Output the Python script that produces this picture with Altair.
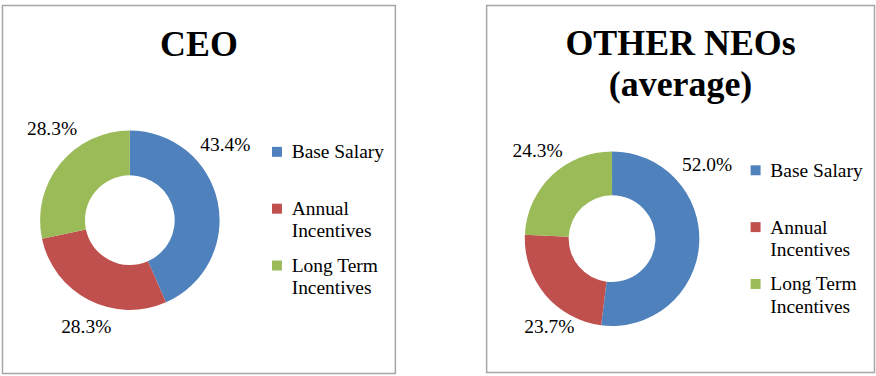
import altair as alt
import pandas as pd

# ---- data ----
CATEGORIES = ["Base Salary", "Annual Incentives", "Long Term Incentives"]
CEO_VALUES = [43.4, 28.3, 28.3]
NEO_VALUES = [52.0, 23.7, 24.3]
CEO_TITLE = ["CEO"]
NEO_TITLE = ["OTHER NEOs", "(average)"]

# ---- style ----
COLORS = ["#4F81BD", "#C0504D", "#9BBB59"]
SERIF = "Liberation Serif"
LABEL_RADIUS = 118
# per-label nudges (px) from the mid-angle position, mimicking "best fit" labels
CEO_NUDGE = [(-19.7, -45.0), (10.2, 8.0), (13.6, -10.6)]
NEO_NUDGE = [(-22.4, -75.2), (27.4, 18.8), (7.0, 3.1)]

SQUARE = "M-1,-2.3H1V-0.3H-1Z"


def panel(values, title, w, h, center, radii, legend_xy, nudges, title_offset):
    df = pd.DataFrame({
        "category": CATEGORIES,
        "value": values,
        "idx": list(range(len(CATEGORIES))),
    })
    base = alt.Chart(df).transform_window(
        cum="sum(value)",
        sort=[alt.SortField("idx", order="ascending")],
        frame=[None, 0],
    ).transform_calculate(
        start="datum.cum - datum.value",
        mid="datum.cum - datum.value / 2",
        label="format(datum.value, '.1f') + '%'",
    )
    theta_scale = alt.Scale(domain=[0, 100])
    cx, cy = center
    arcs = base.mark_arc(innerRadius=radii[0], outerRadius=radii[1]).encode(
        x=alt.value(cx),
        y=alt.value(cy),
        theta=alt.Theta("start:Q", scale=theta_scale, stack=False),
        theta2="cum:Q",
        color=alt.Color(
            "category:N",
            scale=alt.Scale(domain=CATEGORIES, range=COLORS),
            legend=alt.Legend(
                orient="none",
                legendX=legend_xy[0],
                legendY=legend_xy[1],
                title=None,
                padding=0,
                symbolType=SQUARE,
                symbolSize=100,
                symbolStrokeWidth=0,
                symbolOpacity=1,
                symbolOffset=0,
                labelFont=SERIF,
                labelFontSize=19.5,
                labelColor="black",
                labelBaseline="alphabetic",
                labelOffset=5,
                labelLimit=400,
                rowPadding=14,
                labelExpr=(
                    "datum.label == 'Base Salary' ? [datum.label, ''] : "
                    "[slice(datum.label, 0, lastindexof(datum.label, ' ')), "
                    "slice(datum.label, lastindexof(datum.label, ' ') + 1)]"
                ),
            ),
        ),
        order=alt.Order("idx:Q"),
    )
    layers = [arcs]
    for cat, (dx, dy) in zip(CATEGORIES, nudges):
        layers.append(
            base.transform_filter(alt.datum.category == cat)
            .mark_text(
                radius=LABEL_RADIUS, dx=dx, dy=dy, font=SERIF, fontSize=19.5,
                align="center", baseline="alphabetic", color="black",
            )
            .encode(
                x=alt.value(cx),
                y=alt.value(cy),
                theta=alt.Theta("mid:Q", scale=theta_scale, stack=False),
                text="label:N",
            )
        )
    return alt.layer(*layers).properties(
        width=w,
        height=h,
        title=alt.TitleParams(
            text=title, font=SERIF, fontSize=36, fontWeight="bold", color="black",
            anchor="middle", offset=title_offset, baseline="alphabetic", lineHeight=41,
        ),
    )


left = panel(CEO_VALUES, CEO_TITLE, 394, 369, (127.7, 215.3), (45, 90),
             (265.5, 143.5), CEO_NUDGE, -87)
right = panel(NEO_VALUES, NEO_TITLE, 389, 368, (125.8, 233.8), (43.5, 87.5),
              (260, 162), NEO_NUDGE, -127)

chart = alt.hconcat(left, right, spacing=89.5).resolve_scale(
    color="independent", theta="independent"
).resolve_legend(color="independent").properties(
    padding={"left": 1.5, "top": 4, "right": 0, "bottom": 0},
    background="white",
).configure(
    style={"guide-label": {"lineHeight": 22.3}},
    view=alt.ViewConfig(stroke="#A6A6A6", strokeWidth=1.5),
)

chart.save("out.html", embed_options={"renderer": "svg", "actions": False})
